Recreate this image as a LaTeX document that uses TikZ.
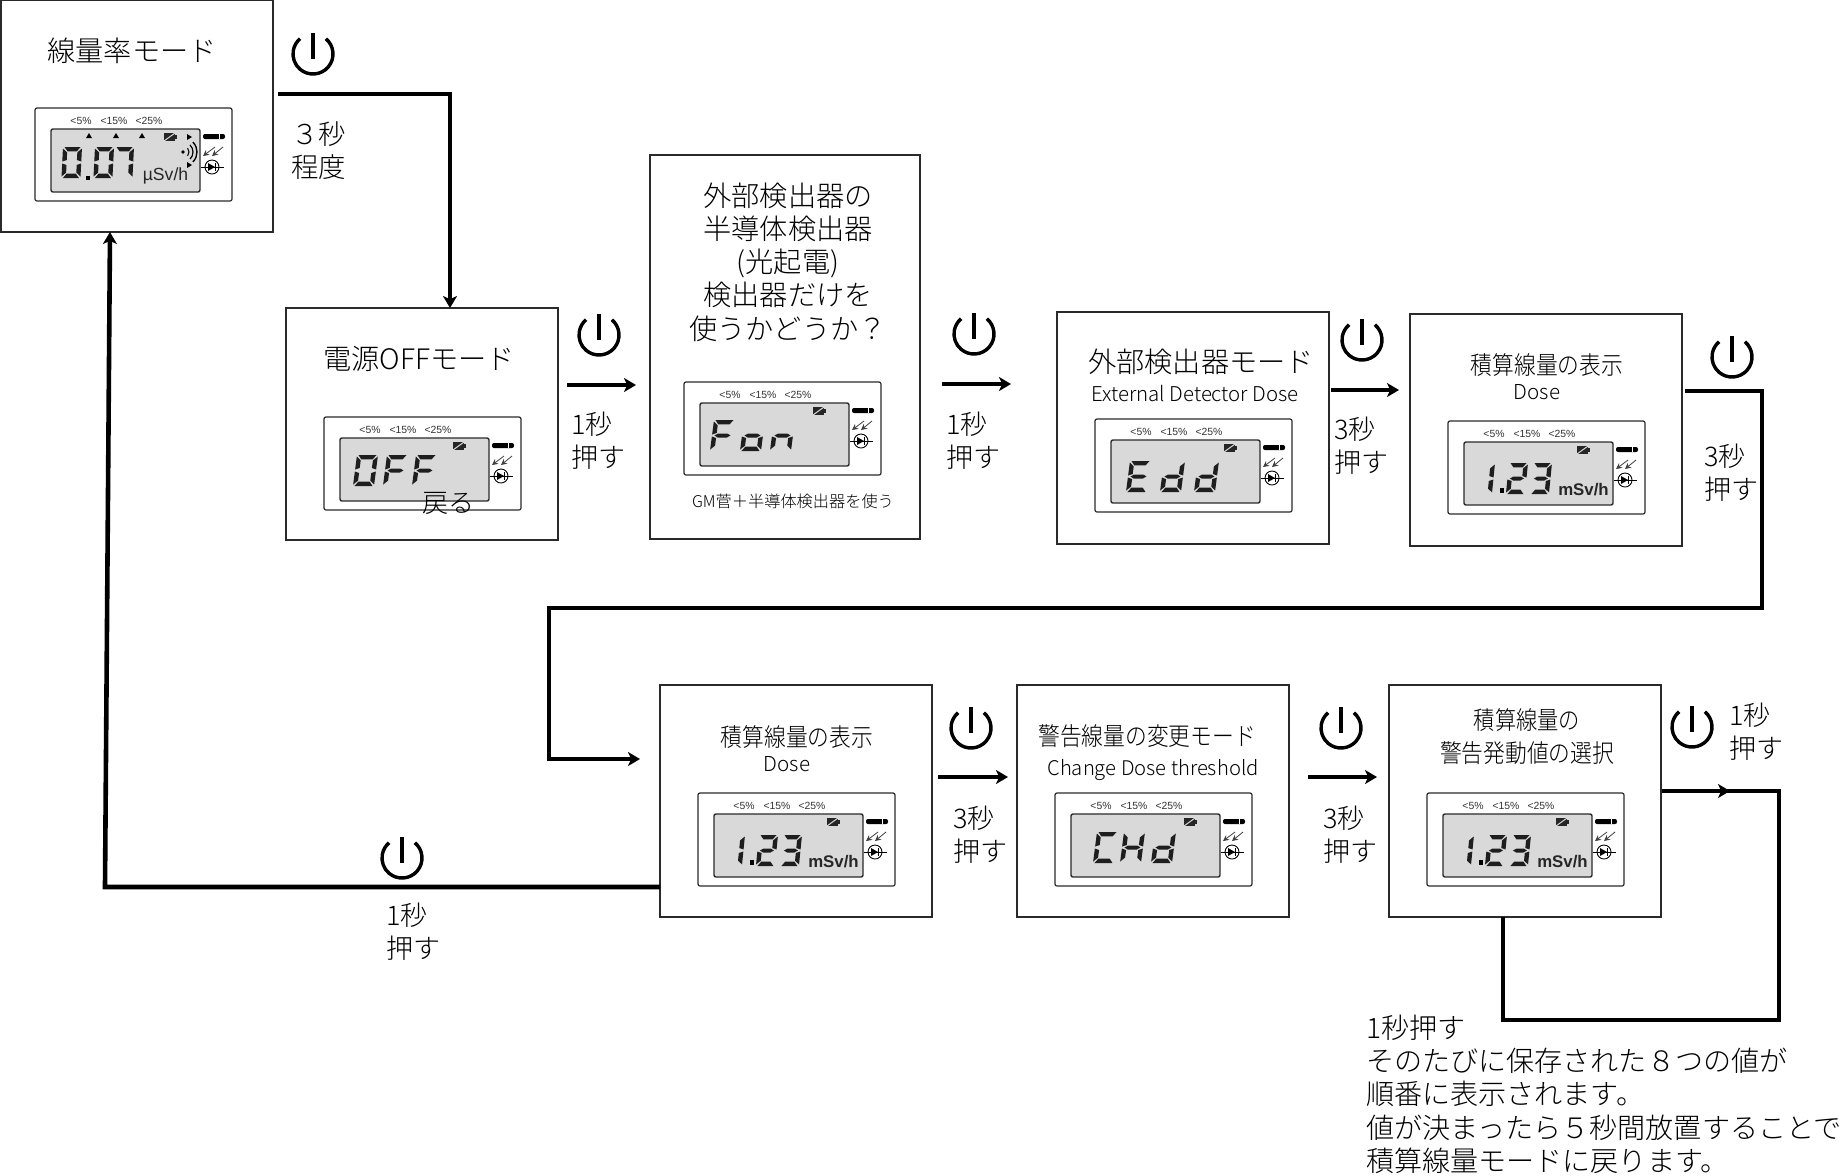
\documentclass[tikz,border=0pt]{standalone}
\usepackage{fontspec}
\usepackage{graphicx}
\usetikzlibrary{arrows.meta}
\newfontfamily\jpf{Noto Sans CJK JP Light}
\setsansfont{Liberation Sans}
\definecolor{lcdgray}{HTML}{D9D9D9}
\definecolor{seggray}{HTML}{1E1E1E}
\definecolor{boxline}{HTML}{2A2A2A}
\tikzset{
  modebox/.style={draw=boxline,line width=0.7pt,fill=white,inner sep=0,outer sep=0,anchor=north west,minimum width=136pt,minimum height=116pt},
  panelbox/.style={draw=boxline,line width=0.6pt,rounded corners=1pt},
  lab/.style={font=\jpf\fontsize{#1}{16.6}\selectfont,inner sep=0,outer sep=0,text=black,align=left,anchor=west},
  ctr/.style={font=\jpf\fontsize{#1}{16.6}\selectfont,inner sep=0,outer sep=0,text=black,align=center,anchor=center},
  pct/.style={font=\sffamily\fontsize{5.2}{6}\selectfont,inner sep=0,text=black!80},
  unit/.style={font=\sffamily\fontsize{8.8}{10}\selectfont,inner sep=0,text=black!85,anchor=base},
  unitb/.style={font=\sffamily\bfseries\fontsize{8.4}{10}\selectfont,inner sep=0,text=black!85,anchor=base},
  conn/.style={line width=2pt,draw=black},
  arr/.style={conn,-{Stealth[length=6pt,width=7pt,inset=1.6pt]}},
  pwr/.style={line width=1.7pt,black,line cap=butt}
}
% seven segment display
\def\dW{21}\def\dH{31}\def\dT{4.4}\def\dS{0.13}
\newcommand\dsega{\fill[seggray] (1.5,0)--({\dW-1.5},0)--({\dW-\dT-.5},\dT)--({\dT+.5},\dT)--cycle;}
\newcommand\dsegd{\fill[seggray] (1.5,\dH)--({\dW-1.5},\dH)--({\dW-\dT-.5},{\dH-\dT})--({\dT+.5},{\dH-\dT})--cycle;}
\newcommand\dsegg{\fill[seggray] (2.5,{\dH/2})--({\dT+1.5},{\dH/2-2})--({\dW-\dT-1.5},{\dH/2-2})--({\dW-2.5},{\dH/2})--({\dW-\dT-1.5},{\dH/2+2})--({\dT+1.5},{\dH/2+2})--cycle;}
\newcommand\dsegf{\fill[seggray] (0,1.5)--(\dT,{\dT+1})--(\dT,{\dH/2-2.5})--(0,{\dH/2-1})--cycle;}
\newcommand\dsege{\fill[seggray] (0,{\dH/2+1})--(\dT,{\dH/2+2.5})--(\dT,{\dH-\dT-1})--(0,{\dH-1.5})--cycle;}
\newcommand\dsegb{\fill[seggray] (\dW,1.5)--({\dW-\dT},{\dT+1})--({\dW-\dT},{\dH/2-2.5})--(\dW,{\dH/2-1})--cycle;}
\newcommand\dsegc{\fill[seggray] (\dW,{\dH/2+1})--({\dW-\dT},{\dH/2+2.5})--({\dW-\dT},{\dH-\dT-1})--(\dW,{\dH-1.5})--cycle;}
\newcommand\dg[3]{\begin{scope}[shift={(#1,#2)},xslant=\dS]\foreach\s in {#3}{\csname dseg\s\endcsname}\end{scope}}
% LCD panel
\newcommand\lcdpanel[3]{%
 \begin{scope}[shift={(#2,#3)}]
  \draw[panelbox,fill=white] (0,0) rectangle (197,93);
  \draw[draw=boxline,line width=0.7pt,fill=lcdgray,rounded corners=1pt] (16,21) rectangle (165,84);
  \node[pct] (#1p1) at (46,13) {<5\%};
  \node[pct] (#1p2) at (79,13) {<15\%};
  \node[pct] (#1p3) at (114,13) {<25\%};
  % battery
  \fill[black!85] (129,25) rectangle (140,33);
  \fill[black!85] (140,27) rectangle (142,31);
  \draw[lcdgray,line width=0.5pt] (129,33)--(140,25);
  % plug bar
  \fill[black,rounded corners=1pt] (168,26) rectangle (190,31);
  \fill[white] (184,26) rectangle (185,31);
  % light arrows
  \draw[black!75,line width=0.4pt,-{Stealth[length=3pt,width=3pt,inset=1pt]}] (188,39)--(177,48);
  \draw[black!75,line width=0.4pt,-{Stealth[length=3pt,width=3pt,inset=1pt]}] (180,39)--(168,48);
  % diode
  \draw[black,line width=0.45pt] (177,59) circle[radius=3.5pt];
  \draw[black,line width=0.45pt] (166,59)--(189,59);
  \fill[black] (173,55)--(173,63)--(180,59)--cycle;
  \draw[black,line width=0.5pt] (180.5,55)--(180.5,63);
 \end{scope}}
\newcommand\pw[2]{%
  \draw[pwr] (#1,{#2-21})--(#1,{#2+5});
  \draw[pwr] (#1,#2)++(50:10pt) arc[start angle=50,delta angle=-280,radius=10pt];}
\begin{document}
\begin{tikzpicture}[x=0.5pt,y=-0.5pt]
\useasboundingbox (0,0) rectangle (1842,1175);
\fill[white] (0,0) rectangle (1842,1175);
% mode boxes
\node[modebox] (b1) at (1,0) {};
\node[modebox] (b2) at (286,308) {};
\node[modebox,minimum width=135pt,minimum height=192pt] (b3) at (650,155) {};
\node[modebox] (b4) at (1057,312) {};
\node[modebox] (b5) at (1410,314) {};
\node[modebox] (b6) at (660,685) {};
\node[modebox] (b7) at (1017,685) {};
\node[modebox] (b8) at (1389,685) {};
% panels
\lcdpanel{pa}{35}{108}
\lcdpanel{pb}{324}{417}
\lcdpanel{pc}{684}{382}
\lcdpanel{pd}{1095}{419}
\lcdpanel{pe}{1448}{421}
\lcdpanel{pf}{698}{793}
\lcdpanel{pg}{1055}{793}
\lcdpanel{ph}{1427}{793}
% panel a: 0.07
\begin{scope}[shift={(35,108)}]
 \fill[black] (51,68) rectangle (55,72);
 \foreach \tx in {54,81,107} {\fill[black] (\tx-3,30)--(\tx+3,30)--(\tx,25)--cycle;}
 \fill[black] (152,26)--(152,32)--(157,29)--cycle;
 \fill[black] (152,54)--(152,60)--(157,57)--cycle;
 \fill[black] (148,44) circle[radius=0.9pt];
 \draw[black,line width=0.5pt] (148,44)++(-40:3pt) arc[start angle=-40,end angle=40,radius=3pt];
 \draw[black,line width=0.6pt] (148,44)++(-45:5pt) arc[start angle=-45,end angle=45,radius=5pt];
 \draw[black,line width=0.7pt] (148,44)++(-45:7pt) arc[start angle=-45,end angle=45,radius=7pt];
 \node[unit] (ua) at (130.5,72) {µSv/h};
 \def\dW{19}\def\dS{0.05}
 \dg{28}{39}{a,b,c,d,e,f}
 \dg{60}{39}{a,b,c,d,e,f}
 \dg{80}{39}{a,b,c}
\end{scope}
% panel b: OFF
\begin{scope}[shift={(324,417)}]
 \dg{33}{38}{a,b,c,d,e,f}
 \dg{63}{38}{a,f,g,e}
 \dg{92}{38}{a,f,g,e}
\end{scope}
% panel c: Fon
\begin{scope}[shift={(684,382)}]
 \dg{30}{38}{a,f,g,e}
 \dg{60}{38}{g,c,d,e}
 \dg{90}{38}{g,c,e}
\end{scope}
% panel d: Edd
\begin{scope}[shift={(1095,419)}]
 \dg{35}{42}{a,f,g,e,d}
 \dg{69}{42}{b,c,d,e,g}
 \dg{103}{42}{b,c,d,e,g}
\end{scope}
% panels e,f,h: 1.23
\foreach \px/\py/\pn in {1448/421/ue,698/793/uf,1427/793/uh}{
 \begin{scope}[shift={(\px,\py)}]
  \def\dW{19}\def\dS{0.1}
  \fill[black] (52,67) rectangle (56,72);
  \dg{28}{42}{b,c}
  \dg{61}{42}{a,b,g,e,d}
  \dg{85}{42}{a,b,g,c,d}
  \node[unitb] (\pn) at (135.5,74) {mSv/h};
 \end{scope}
}
% panel g: CHd
\begin{scope}[shift={(1055,793)}]
 \dg{42}{39}{a,f,e,d}
 \dg{69}{39}{b,c,e,f,g}
 \dg{100}{39}{b,c,d,e,g}
\end{scope}
% box titles
\node[ctr=14.1] (t1) at (132,51) {線量率モード};
\node[ctr=14.1] (t2) at (419,359) {電源OFFモード};
\node[ctr=13] (back) at (448,503) {戻る};
\node[ctr=14.1] (t3) at (788,262) {外部検出器の\\半導体検出器\\(光起電)\\検出器だけを\\使うかどうか？};
\node[ctr=8.1] (t3s) at (793,501) {GM菅＋半導体検出器を使う};
\node[ctr=14.1] (t4) at (1201,362) {外部検出器モード};
\node[ctr=10.2] (t4s) at (1195,394) {External Detector Dose};
\node[ctr=12.5] (t5) at (1547,365) {\scalebox{.87}[1]{積算線量の表示}};
\node[ctr=10.3] (t5s) at (1537,392) {Dose};
\node[ctr=12.5] (t6) at (797,737) {\scalebox{.87}[1]{積算線量の表示}};
\node[ctr=10.3] (t6s) at (787,764) {Dose};
\node[ctr=12.5] (t7) at (1147,736) {\scalebox{.87}[1]{警告線量の変更モード}};
\node[ctr=10.1] (t7s) at (1153,770) {Change Dose threshold};
\node[ctr=12.5] (t8a) at (1527,720) {\scalebox{.85}[1]{積算線量の}};
\node[ctr=12.5] (t8b) at (1527,753) {\scalebox{.87}[1]{警告発動値の選択}};
% side labels
\node[lab=13.7] (s1) at (291,151) {３秒\\程度};
\node[lab=13.5] (s2) at (571,441) {1秒\\押す};
\node[lab=13.5] (s3) at (946,441) {1秒\\押す};
\node[lab=13.5] (s4) at (1334,446) {3秒\\押す};
\node[lab=13.5] (s5) at (1704,473) {3秒\\押す};
\node[lab=13.5] (s6) at (953,835) {3秒\\押す};
\node[lab=13.5] (s7) at (1323,835) {3秒\\押す};
\node[lab=13.5] (s8) at (1729,732) {1秒\\押す};
\node[lab=13.5] (s9) at (386,932) {1秒\\押す};
\node[lab=14.05,anchor=north west] (note) at (1366,1015) {1秒押す\\そのたびに保存された８つの値が\\順番に表示されます。\\値が決まったら５秒間放置することで\\積算線量モードに戻ります。};
% power symbols
\pw{313}{54}
\pw{599}{335}
\pw{974}{334}
\pw{1362}{340}
\pw{1732}{357}
\pw{971}{728}
\pw{1341}{728}
\pw{1692}{727}
\pw{402}{858}
% connectors
\coordinate (k1) at (450,94);
\draw[arr,shorten <=2.5pt] (b1.east |- k1) -- (k1) -- (k1 |- b2.north);
\coordinate (k2) at (0,385);
\draw[arr,shorten <=4.5pt,shorten >=7pt] (b2.east |- k2) -- (b3.west |- k2);
\coordinate (k3) at (0,384);
\draw[arr,shorten <=11pt,shorten >=23pt] (b3.east |- k3) -- (b4.west |- k3);
\coordinate (k4) at (0,390);
\draw[arr,shorten <=1pt,shorten >=5.5pt] (b4.east |- k4) -- (b5.west |- k4);
\coordinate (k5a) at (1762,391);
\coordinate (k5b) at (1762,608);
\coordinate (k5c) at (549,608);
\coordinate (k5d) at (549,759);
\draw[arr,shorten <=1.5pt,shorten >=10pt] (b5.east |- k5a) -- (k5a) -- (k5b) -- (k5c) -- (k5d) -- (b6.west |- k5d);
\coordinate (k6) at (0,777);
\draw[arr,shorten <=3pt,shorten >=4.5pt] (b6.east |- k6) -- (b7.west |- k6);
\coordinate (k7) at (0,777);
\draw[arr,shorten <=9.5pt,shorten >=6pt] (b7.east |- k7) -- (b8.west |- k7);
\coordinate (k8a) at (1730,791);
\coordinate (k8b) at (1779,791);
\coordinate (k8c) at (1779,1020);
\coordinate (k8d) at (1503,1020);
\draw[conn,shorten <=-3pt] (k8a) -- (k8b) -- (k8c) -- (k8d) -- (k8d |- b8.south);
\draw[arr,shorten <=0.5pt] (b8.east |- k8a) -- (k8a);
\coordinate (k9a) at (105,887);
\coordinate (k9b) at (110,232);
\draw[arr,line width=2.3pt] (b6.west |- k9a) -- (k9a) -- (k9b |- b1.south);
\end{tikzpicture}
\end{document}
